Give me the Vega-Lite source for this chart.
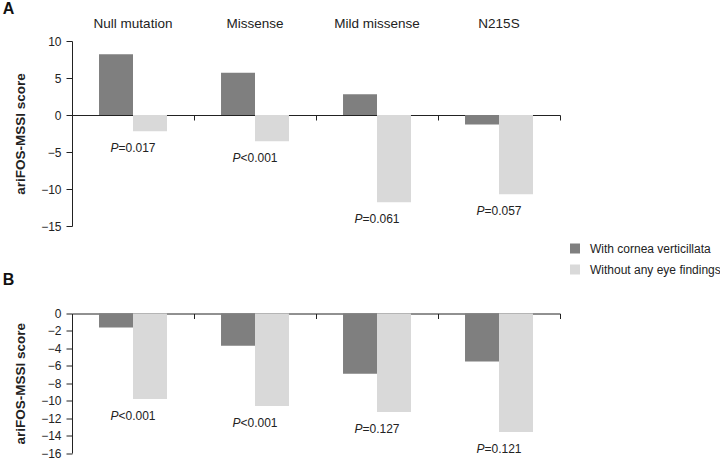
{
  "$schema": "https://vega.github.io/schema/vega-lite/v6.json",
  "padding": {"left": 2, "top": 0, "right": 0, "bottom": 0},
  "background": "white",
  "bounds": "flush",
  "spacing": 87.5,
  "config": {
    "font": "Liberation Sans",
    "view": {"stroke": null},
    "axis": {
      "labelFont": "Liberation Sans",
      "titleFont": "Liberation Sans",
      "labelColor": "#222",
      "titleColor": "#222",
      "domainColor": "#222",
      "tickColor": "#222",
      "grid": false
    },
    "axisY": {"tickSize": 6, "labelPadding": 5, "labelFontSize": 12, "titleFontSize": 13.5, "titleFontWeight": "bold", "titlePadding": 13, "labelOverlap": false},
    "text": {"font": "Liberation Sans", "fontSize": 12, "color": "#222"}
  },
  "datasets": {
    "scores": [
      {"panel": "A", "group": "Null mutation", "series": "With cornea verticillata", "score": 8.2, "prest": "=0.017"},
      {"panel": "A", "group": "Null mutation", "series": "Without any eye findings", "score": -2.2, "prest": "=0.017"},
      {"panel": "A", "group": "Missense", "series": "With cornea verticillata", "score": 5.7, "prest": "<0.001"},
      {"panel": "A", "group": "Missense", "series": "Without any eye findings", "score": -3.55, "prest": "<0.001"},
      {"panel": "A", "group": "Mild missense", "series": "With cornea verticillata", "score": 2.8, "prest": "=0.061"},
      {"panel": "A", "group": "Mild missense", "series": "Without any eye findings", "score": -11.8, "prest": "=0.061"},
      {"panel": "A", "group": "N215S", "series": "With cornea verticillata", "score": -1.3, "prest": "=0.057"},
      {"panel": "A", "group": "N215S", "series": "Without any eye findings", "score": -10.7, "prest": "=0.057"},
      {"panel": "B", "group": "Null mutation", "series": "With cornea verticillata", "score": -1.6, "prest": "<0.001"},
      {"panel": "B", "group": "Null mutation", "series": "Without any eye findings", "score": -9.8, "prest": "<0.001"},
      {"panel": "B", "group": "Missense", "series": "With cornea verticillata", "score": -3.7, "prest": "<0.001"},
      {"panel": "B", "group": "Missense", "series": "Without any eye findings", "score": -10.6, "prest": "<0.001"},
      {"panel": "B", "group": "Mild missense", "series": "With cornea verticillata", "score": -6.9, "prest": "=0.127"},
      {"panel": "B", "group": "Mild missense", "series": "Without any eye findings", "score": -11.3, "prest": "=0.127"},
      {"panel": "B", "group": "N215S", "series": "With cornea verticillata", "score": -5.5, "prest": "=0.121"},
      {"panel": "B", "group": "N215S", "series": "Without any eye findings", "score": -13.6, "prest": "=0.121"}
    ]
  },
  "data": {"name": "scores"},
  "vconcat": [
    {
      "width": 488,
      "height": 185,
      "title": {"text": "A", "anchor": "start", "frame": "bounds", "dx": -11, "fontSize": 16, "fontWeight": "bold", "offset": -0.5, "color": "#111"},
      "transform": [{"filter": "datum.panel == 'A'"}],
      "layer": [
        {
          "mark": {"type": "bar"},
          "encoding": {
            "x": {"field": "group", "type": "nominal", "sort": ["Null mutation", "Missense", "Mild missense", "N215S"],
              "scale": {"paddingInner": 0.443, "paddingOuter": 0.2215},
              "axis": {"orient": "top", "title": null, "domain": false, "ticks": false, "tickSize": 0, "labelPadding": 14, "labelBaseline": "alphabetic", "labelFontSize": 13.5, "labelAngle": 0}},
            "xOffset": {"field": "series", "type": "nominal", "sort": ["With cornea verticillata", "Without any eye findings"]},
            "y": {"field": "score", "type": "quantitative", "title": "ariFOS-MSSI score",
              "scale": {"domain": [-15, 10], "nice": false, "zero": false},
              "axis": {"values": [-15, -10, -5, 0, 5, 10]}},
            "color": {"field": "series", "type": "nominal",
              "scale": {"domain": ["With cornea verticillata", "Without any eye findings"], "range": ["#7f7f7f", "#d9d9d9"]},
              "legend": {"orient": "none", "legendX": 497, "legendY": 201.5, "title": null, "symbolType": "square", "symbolSize": 100, "symbolStrokeWidth": 0, "labelFontSize": 12, "labelColor": "#222", "rowPadding": 9, "labelOffset": 9}}
          }
        },
        {
          "mark": {"type": "text", "fontStyle": "italic", "align": "right", "baseline": "middle", "dx": -14.5, "dy": 17},
          "encoding": {
            "x": {"field": "group", "type": "nominal", "sort": ["Null mutation", "Missense", "Mild missense", "N215S"],
              "axis": {"orient": "bottom", "offset": -111, "labels": false, "title": null, "domain": true, "ticks": true, "tickSize": 5, "bandPosition": 1.3977}},
            "y": {"aggregate": "min", "field": "score", "type": "quantitative", "title": "ariFOS-MSSI score", "axis": {"values": [-15, -10, -5, 0, 5, 10]}},
            "text": {"value": "P"}
          }
        },
        {
          "mark": {"type": "text", "align": "left", "baseline": "middle", "dx": -14.5, "dy": 17},
          "encoding": {
            "x": {"field": "group", "type": "nominal", "sort": ["Null mutation", "Missense", "Mild missense", "N215S"], "axis": null},
            "y": {"aggregate": "min", "field": "score", "type": "quantitative", "title": "ariFOS-MSSI score", "axis": {"values": [-15, -10, -5, 0, 5, 10]}},
            "text": {"field": "prest"}
          }
        }
      ],
      "resolve": {"axis": {"x": "independent"}}
    },
    {
      "width": 488,
      "height": 139.5,
      "title": {"text": "B", "anchor": "start", "frame": "bounds", "dx": -11, "fontSize": 16, "fontWeight": "bold", "offset": 20, "color": "#111"},
      "transform": [{"filter": "datum.panel == 'B'"}],
      "layer": [
        {
          "mark": {"type": "bar"},
          "encoding": {
            "x": {"field": "group", "type": "nominal", "sort": ["Null mutation", "Missense", "Mild missense", "N215S"],
              "scale": {"paddingInner": 0.443, "paddingOuter": 0.2215},
              "axis": {"orient": "bottom", "offset": -139.5, "labels": false, "title": null, "domain": true, "ticks": true, "tickSize": 5, "bandPosition": 1.3977}},
            "xOffset": {"field": "series", "type": "nominal", "sort": ["With cornea verticillata", "Without any eye findings"]},
            "y": {"field": "score", "type": "quantitative", "title": "ariFOS-MSSI score",
              "scale": {"domain": [-16, 0], "nice": false, "zero": false},
              "axis": {"values": [-16, -14, -12, -10, -8, -6, -4, -2, 0]}},
            "color": {"field": "series", "type": "nominal",
              "scale": {"domain": ["With cornea verticillata", "Without any eye findings"], "range": ["#7f7f7f", "#d9d9d9"]},
              "legend": {"orient": "none", "legendX": 497, "legendY": 201.5, "title": null, "symbolType": "square", "symbolSize": 100, "symbolStrokeWidth": 0, "labelFontSize": 12, "labelColor": "#222", "rowPadding": 9, "labelOffset": 9}}
          }
        },
        {
          "mark": {"type": "text", "fontStyle": "italic", "align": "right", "baseline": "middle", "dx": -14.5, "dy": 17},
          "encoding": {
            "x": {"field": "group", "type": "nominal", "sort": ["Null mutation", "Missense", "Mild missense", "N215S"]},
            "y": {"aggregate": "min", "field": "score", "type": "quantitative", "title": "ariFOS-MSSI score", "axis": {"values": [-16, -14, -12, -10, -8, -6, -4, -2, 0]}},
            "text": {"value": "P"}
          }
        },
        {
          "mark": {"type": "text", "align": "left", "baseline": "middle", "dx": -14.5, "dy": 17},
          "encoding": {
            "x": {"field": "group", "type": "nominal", "sort": ["Null mutation", "Missense", "Mild missense", "N215S"]},
            "y": {"aggregate": "min", "field": "score", "type": "quantitative", "title": "ariFOS-MSSI score", "axis": {"values": [-16, -14, -12, -10, -8, -6, -4, -2, 0]}},
            "text": {"field": "prest"}
          }
        }
      ]
    }
  ]
}
